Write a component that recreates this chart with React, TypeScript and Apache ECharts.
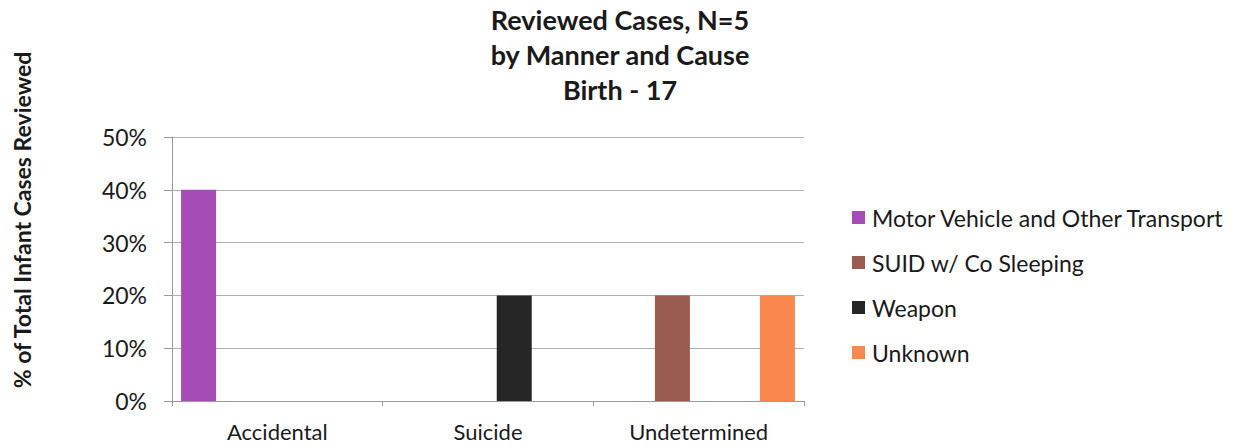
import React, { useEffect, useRef } from "react";
import * as echarts from "echarts";

const categories = ["Accidental", "Suicide", "Undetermined"];
const seriesNames = [
  "Motor Vehicle and Other Transport",
  "SUID w/ Co Sleeping",
  "Weapon",
  "Unknown",
];
const motorVehicle = [40, 0, 0];
const suidCoSleeping = [0, 0, 20];
const weapon = [0, 20, 0];
const unknown = [0, 0, 20];
const seriesColors = ["#A64CB7", "#985B4D", "#262626", "#F8884E"];
const titleText = "Reviewed Cases, N=5\nby Manner and Cause\nBirth - 17";
const yAxisTitle = "% of Total Infant Cases Reviewed";

const FONT = "Lato, 'Open Sans', sans-serif";

export default function App() {
  const ref = useRef<HTMLDivElement>(null);
  useEffect(() => {
    document.body.style.margin = "0";
    if (!ref.current) return;
    const chart = echarts.init(ref.current, undefined, { renderer: "svg" });
    const values = [motorVehicle, suidCoSleeping, weapon, unknown];
    chart.setOption({
      animation: false,
      backgroundColor: "#ffffff",
      title: {
        text: titleText,
        left: 615,
        top: -3,
        textAlign: "center",
        textStyle: {
          fontFamily: FONT,
          fontSize: 27,
          fontWeight: "bold",
          color: "#1a1a1a",
          lineHeight: 35,
        },
      },
      legend: {
        orient: "vertical",
        left: 847,
        top: 201,
        itemWidth: 13,
        itemHeight: 13,
        itemGap: 22,
        icon: "rect",
        data: seriesNames,
        textStyle: { fontFamily: FONT, fontSize: 23, color: "#1a1a1a", padding: [0, 0, 0, 2] },
      },
      graphic: [
        {
          type: "text",
          x: 22,
          y: 220,
          rotation: Math.PI / 2,
          style: {
            text: yAxisTitle,
            textAlign: "center",
            textVerticalAlign: "middle",
            font: `bold 23px ${FONT}`,
            fill: "#1a1a1a",
          },
        },
      ],
      grid: { left: 172, right: 437, top: 137, bottom: 46, containLabel: false },
      xAxis: {
        type: "category",
        data: categories,
        axisLine: { lineStyle: { color: "#9a9a9a" } },
        axisTick: { show: true, length: 5, lineStyle: { color: "#9a9a9a" } },
        axisLabel: { fontFamily: FONT, fontSize: 22, color: "#1a1a1a", margin: 19 },
      },
      yAxis: {
        type: "value",
        min: 0,
        max: 50,
        interval: 10,
        axisLine: { show: true, lineStyle: { color: "#9a9a9a" } },
        axisTick: { show: true, length: 8, lineStyle: { color: "#9a9a9a" } },
        splitLine: { lineStyle: { color: "#b0b0b0" } },
        axisLabel: {
          formatter: "{value}%",
          fontFamily: FONT,
          fontSize: 23,
          color: "#1a1a1a",
          margin: 25,
        },
      },
      series: seriesNames.map((name, i) => ({
        name,
        type: "bar",
        data: values[i],
        barWidth: 35,
        barGap: "50%",
        itemStyle: { color: seriesColors[i] },
      })),
    });
    return () => chart.dispose();
  }, []);
  return <div ref={ref} style={{ width: 1241, height: 447 }} />;
}
